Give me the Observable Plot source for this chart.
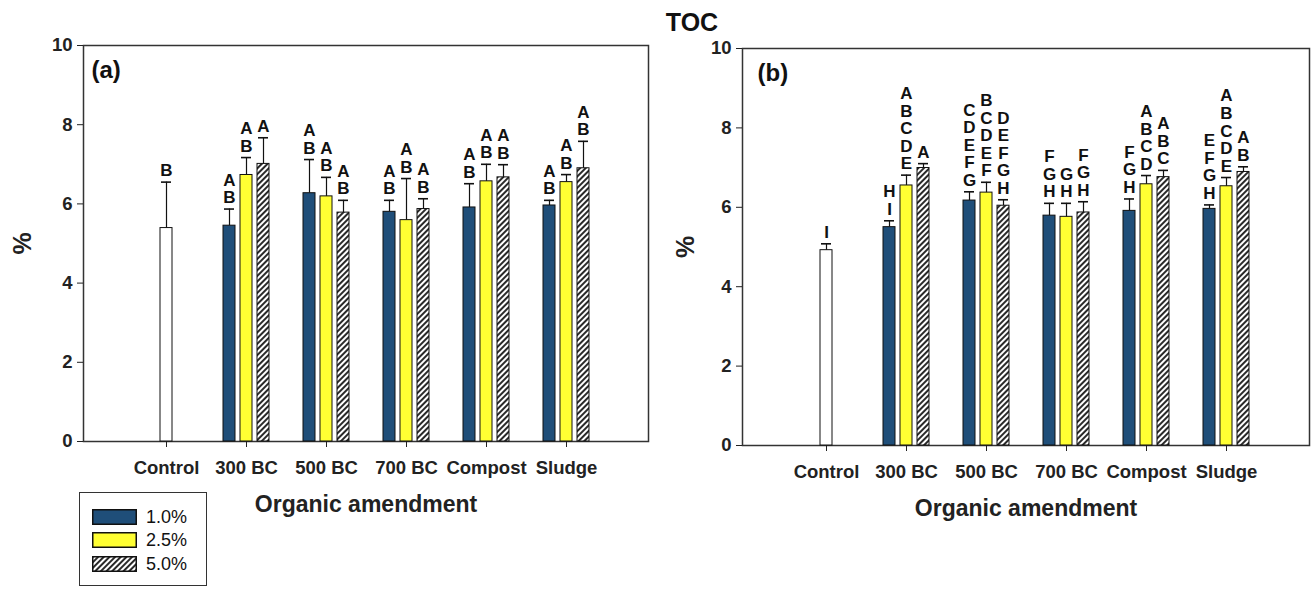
<!DOCTYPE html>
<html>
<head>
<meta charset="utf-8">
<script src="https://cdn.jsdelivr.net/npm/d3@7"></script>
<script src="https://cdn.jsdelivr.net/npm/@observablehq/plot@0.6"></script>
<style>
  body { margin: 0; background: #fff; font-family: "Liberation Sans", Arial, sans-serif; }
  #wrap { position: relative; width: 1311px; height: 589px; overflow: hidden; background: #fff; }
  .panel { position: absolute; top: 0; }
  #title { position: absolute; top: 8px; left: 642px; width: 100px; text-align: center; font-weight: bold; font-size: 25px; line-height: 1.15; color: #111; }
  #legend { position: absolute; left: 79px; top: 492px; width: 128px; height: 94px; border: 1.5px solid #333; box-sizing: border-box; background: #fff; }
  .lrow { position: absolute; left: 12px; height: 15px; display: flex; align-items: center; }
  .lrow svg { display: block; }
  .lrow span { margin-left: 9px; font-size: 18px; color: #111; line-height: 1; }
  g[aria-label="x-axis label"] { font-size: 23px; }
  g[aria-label="y-axis label"] { font-size: 25px; }
</style>
</head>
<body>
<svg width="0" height="0" style="position:absolute">
  <defs>
    <pattern id="hatch" patternUnits="userSpaceOnUse" width="4" height="4" patternTransform="rotate(45)">
      <rect width="4" height="4" fill="#fff"></rect>
      <line x1="1" y1="0" x2="1" y2="4" stroke="#111" stroke-width="1.8"></line>
    </pattern>
  </defs>
</svg>
<div id="wrap">
  <div id="title">TOC</div>
  <div id="pa" class="panel" style="left:0px"></div>
  <div id="pb" class="panel" style="left:655px"></div>
  <div id="legend"></div>
</div>
<script>
// ---------- data ----------
const categories = ["Control", "300 BC", "500 BC", "700 BC", "Compost", "Sludge"];
const amendments = categories.slice(1);
const rates = ["1.0%", "2.5%", "5.0%"];
const yTicks = [0, 2, 4, 6, 8, 10];
const xTitle = "Organic amendment";
const yTitle = "%";

// Panel (a): control [mean, sd, letters]
const aControl = [5.39, 1.16, "B"];
const aMean10 = [5.45, 6.27, 5.80, 5.91, 5.96];
const aMean25 = [6.73, 6.19, 5.59, 6.57, 6.55];
const aMean50 = [7.01, 5.78, 5.87, 6.67, 6.90];
const aSD10 = [0.42, 0.85, 0.29, 0.60, 0.13];
const aSD25 = [0.44, 0.48, 1.05, 0.43, 0.19];
const aSD50 = [0.66, 0.31, 0.26, 0.32, 0.68];
const aLet10 = ["AB", "AB", "AB", "AB", "AB"];
const aLet25 = ["AB", "AB", "AB", "AB", "AB"];
const aLet50 = ["A", "AB", "AB", "AB", "AB"];

// Panel (b)
const bControl = [4.92, 0.16, "I"];
const bMean10 = [5.50, 6.17, 5.79, 5.91, 5.96];
const bMean25 = [6.55, 6.37, 5.76, 6.58, 6.53];
const bMean50 = [6.99, 6.04, 5.87, 6.76, 6.89];
const bSD10 = [0.16, 0.22, 0.31, 0.30, 0.10];
const bSD25 = [0.26, 0.26, 0.34, 0.22, 0.22];
const bSD50 = [0.11, 0.15, 0.27, 0.17, 0.13];
const bLet10 = ["HI", "CDEFG", "FGH", "FGH", "EFGH"];
const bLet25 = ["ABCDE", "BCDEF", "GH", "ABCD", "ABCDE"];
const bLet50 = ["A", "DEFGH", "FGH", "ABC", "AB"];

// ---------- styles ----------
const seriesFill = ["#1F4E79", "#FFFF33", "url(#hatch)"];
const seriesDx = [-17, 0, 17];
const FONT = '"Liberation Sans", Arial, sans-serif';

function buildRows(ctrl, means, sds, lets) {
  const rows = [{cat: categories[0], series: "Control", mean: ctrl[0], sd: ctrl[1], letters: ctrl[2]}];
  means.forEach((arr, s) => arr.forEach((m, j) => rows.push({
    cat: amendments[j], series: rates[s], mean: m, sd: sds[s][j], letters: lets[s][j]
  })));
  return rows;
}

function panel(cfg) {
  const rows = buildRows(cfg.ctrl, cfg.means, cfg.sds, cfg.lets);
  const groups = [{key: "Control", fill: "#fff", dx: 0}]
    .concat(rates.map((r, i) => ({key: r, fill: seriesFill[i], dx: seriesDx[i]})));
  const marks = [];
  for (const g of groups) {
    const d = rows.filter(r => r.series === g.key);
    marks.push(Plot.barY(d, {x: "cat", y: "mean", dx: g.dx, fill: g.fill, stroke: "#111", strokeWidth: 1}));
    marks.push(Plot.ruleX(d, {x: "cat", y1: "mean", y2: r => r.mean + r.sd, dx: g.dx, stroke: "#111", strokeWidth: 1.2}));
    marks.push(Plot.tickY(d, {x: "cat", y: r => r.mean + r.sd, dx: g.dx, stroke: "#111", strokeWidth: 1.6, insetLeft: 1, insetRight: 1}));
    marks.push(Plot.text(d, {
      x: "cat", y: r => r.mean + r.sd, dx: g.dx, dy: -6,
      text: r => r.letters.split("").join("\n"),
      lineAnchor: "bottom", lineHeight: 1.03, fontSize: 17, fontWeight: "bold", fill: "#111"
    }));
  }
  return Plot.plot({
    width: cfg.width, height: 530,
    marginLeft: cfg.mL, marginRight: cfg.mR, marginTop: cfg.mT, marginBottom: 530 - cfg.bottom,
    x: {type: "band", domain: categories, paddingInner: 0.851, paddingOuter: 0.926},
    y: {domain: [0, 10]},
    style: {fontFamily: FONT, fontWeight: "bold", color: "#222", background: "transparent", overflow: "visible"},
    marks: [
      Plot.frame({stroke: "#333", strokeWidth: 1.5}),
      Plot.axisY({ticks: yTicks, tickSize: 6, tickPadding: 5, fontSize: 18.5, label: yTitle,
        labelAnchor: "center", labelOffset: cfg.yLabOff, labelArrow: "none"}),
      Plot.axisX({tickSize: 6, tickPadding: 13, fontSize: 18.5, label: xTitle,
        labelAnchor: "center", labelOffset: 70}),
      ...marks,
      Plot.text([cfg.tag], {frameAnchor: "top-left", dx: cfg.tagDx, dy: 15, lineAnchor: "top",
        textAnchor: "start", fontSize: 24, fontWeight: "bold", fill: "#111"})
    ]
  });
}

document.getElementById("pa").appendChild(panel({
  ctrl: aControl, means: [aMean10, aMean25, aMean50], sds: [aSD10, aSD25, aSD50], lets: [aLet10, aLet25, aLet50],
  width: 655, mL: 83, mR: 7, mT: 45, bottom: 441, yLabOff: 70, tag: "(a)", tagDx: 8
}));
document.getElementById("pb").appendChild(panel({
  ctrl: bControl, means: [bMean10, bMean25, bMean50], sds: [bSD10, bSD25, bSD50], lets: [bLet10, bLet25, bLet50],
  width: 656, mL: 87, mR: 2, mT: 48, bottom: 445, yLabOff: 66, tag: "(b)", tagDx: 15
}));

// legend
const legend = document.getElementById("legend");
const rowTops = [16, 39, 63];
rates.forEach((r, i) => {
  const row = document.createElement("div");
  row.className = "lrow";
  row.style.top = rowTops[i] + "px";
  row.innerHTML = `<svg width="45" height="16"><rect x="0.75" y="0.75" width="43.5" height="14.5" fill="${seriesFill[i]}" stroke="#111" stroke-width="1.5"></rect></svg><span>${r}</span>`;
  legend.appendChild(row);
});
</script>
</body>
</html>
